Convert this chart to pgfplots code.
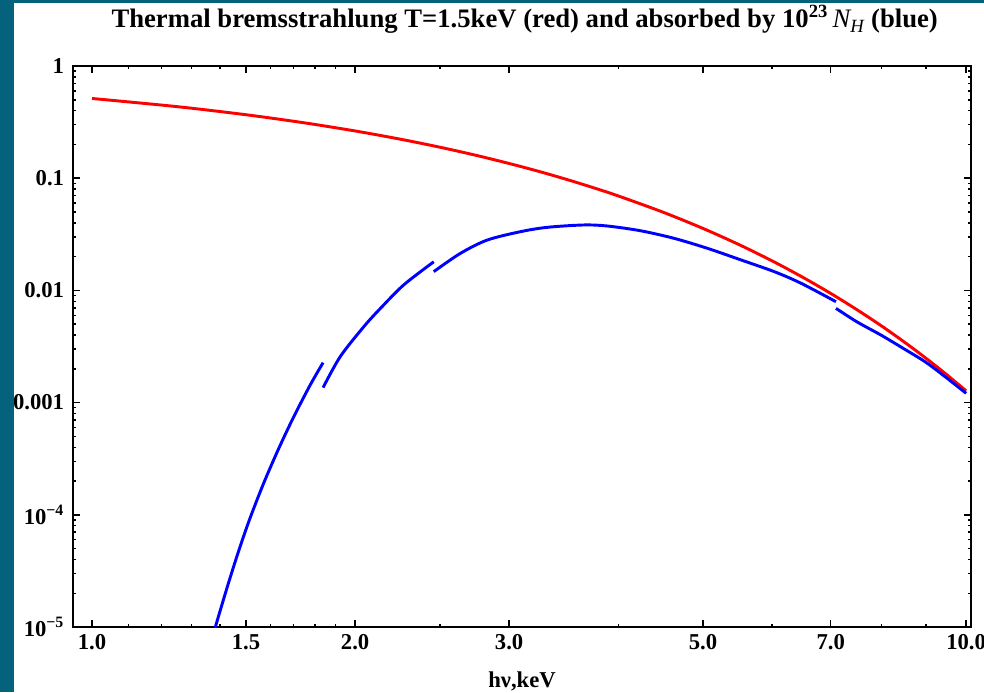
\documentclass[border=0pt]{standalone}
\usepackage{fontspec}
\setmainfont{Liberation Serif}
\usepackage{pgfplots}
\pgfplotsset{compat=1.18}
\definecolor{teal0}{RGB}{4,98,125}
\definecolor{mred}{RGB}{255,0,0}
\definecolor{mblue}{RGB}{0,0,255}
\begin{document}
\begin{tikzpicture}
\useasboundingbox (-54.75pt,-48.75pt) rectangle (683.25pt,470.25pt);
\fill[white] (-54.75pt,-48.75pt) rectangle (683.25pt,470.25pt);
\begin{axis}[
  scale only axis, width=673.5pt, height=420.75pt,
  at={(0pt,0pt)}, anchor=south west,
  xmode=log, ymode=log,
  xmin=0.951, xmax=10.13, ymin=1e-5, ymax=1,
  axis line style={line width=2.2pt, black},
  tick align=inside,
  major tick length=5pt, minor tick length=2.6pt,
  every tick/.style={black, line width=1.1pt},
  xtick={1,1.5,2,3,5,7,10},
  xticklabels={1.0,1.5,2.0,3.0,5.0,7.0,10.0},
  minor xtick={1.1,1.2,1.3,1.4,1.6,1.7,1.8,1.9,2.5,4,6,8,9},
  ytick={1e-5,1e-4,0.001,0.01,0.1,1},
  yticklabels={10\textsuperscript{−5},10\textsuperscript{−4},0.001,0.01,0.1,1},
  minor ytick={2e-5,3e-5,4e-5,5e-5,6e-5,7e-5,8e-5,9e-5,
               2e-4,3e-4,4e-4,5e-4,6e-4,7e-4,8e-4,9e-4,
               2e-3,3e-3,4e-3,5e-3,6e-3,7e-3,8e-3,9e-3,
               0.02,0.03,0.04,0.05,0.06,0.07,0.08,0.09,
               0.2,0.3,0.4,0.5,0.6,0.7,0.8,0.9},
  xticklabel style={font=\fontsize{17}{19}\selectfont\bfseries, anchor=base, yshift=-16.5pt, inner sep=0pt},
  yticklabel style={font=\fontsize{17}{19}\selectfont\bfseries, anchor=east, xshift=-6.5pt, inner sep=0pt},
  xlabel={hν,keV},
  xlabel style={font=\fontsize{17}{19}\selectfont\bfseries, at={(axis description cs:0.5,0)}, anchor=base, yshift=-45pt, inner sep=0pt},
  title={Thermal bremsstrahlung T=1.5keV (red) and absorbed by 10\textsuperscript{23}\,{\mdseries\itshape N\textsubscript{H}} (blue)},
  title style={font=\fontsize{20}{22}\selectfont\bfseries, at={(axis description cs:0.5,1)}, anchor=base, yshift=22.5pt, xshift=2pt, inner sep=0pt},
  clip=true,
]
\addplot[mred, line width=2.2pt, smooth] coordinates {
(1.00,0.5134) (1.25,0.4346) (1.50,0.3679) (1.75,0.3114) (2.00,0.2636)
(2.25,0.2231) (2.50,0.1889) (2.75,0.1599) (3.00,0.1353) (3.25,0.1146)
(3.50,0.09697) (3.75,0.08208) (4.00,0.06948) (4.50,0.04979) (5.00,0.03567)
(5.50,0.02556) (6.00,0.01832) (6.50,0.01312) (7.00,0.009404) (7.50,0.006738)
(8.00,0.004828) (8.50,0.003460) (9.00,0.002479) (9.50,0.001776) (10.00,0.001273)
};
\addplot[mblue, line width=2.2pt, smooth] coordinates {
(1.380,9.25e-6) (1.395,1.24e-5) (1.433,2.49e-5) (1.471,4.73e-5) (1.514,9.06e-5)
(1.571,1.90e-4) (1.635,3.89e-4) (1.701,7.46e-4) (1.777,1.44e-3) (1.838,2.27e-3)
};
\addplot[mblue, line width=2.2pt, smooth] coordinates {
(1.838,1.36e-3) (1.923,2.57e-3) (2.046,4.75e-3) (2.137,6.90e-3) (2.273,1.12e-2) (2.460,1.80e-2)
};
\addplot[mblue, line width=2.2pt, smooth] coordinates {
(2.460,1.47e-2) (2.639,2.14e-2) (2.832,2.81e-2) (3.093,3.34e-2) (3.318,3.65e-2)
(3.652,3.83e-2) (3.887,3.75e-2) (4.243,3.40e-2) (4.634,2.91e-2) (5.060,2.37e-2)
(5.525,1.87e-2) (6.032,1.47e-2) (6.471,1.16e-2) (7.098,7.93e-3)
};
\addplot[mblue, line width=2.2pt, smooth] coordinates {
(7.098,6.92e-3) (7.5,5.25e-3) (8.0,3.98e-3) (8.5,3.00e-3) (9.0,2.28e-3) (9.5,1.66e-3) (10.0,1.21e-3)
};
\end{axis}
\fill[teal0] (-54.75pt,-48.75pt) rectangle (-44.25pt,470.25pt);
\fill[teal0] (-54.75pt,468pt) rectangle (683.25pt,470.25pt);
\end{tikzpicture}
\end{document}
